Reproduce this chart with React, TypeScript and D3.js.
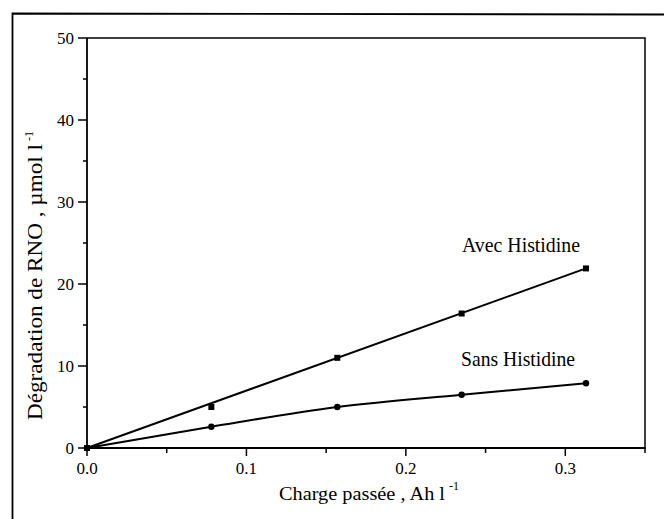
import React, { useEffect, useRef } from 'react';
import * as d3 from 'd3';

// charge passée (Ah/l)
const charge = [0, 0.078, 0.157, 0.235, 0.313];
const avecHistidine = [0, 5.0, 11.0, 16.4, 21.9];
const sansHistidine = [0, 2.6, 5.0, 6.5, 7.9];

// straight fit drawn for "Avec Histidine"
const avecFitX = [0, 0.313];
const avecFitY = [0, 21.9];

const xMajor = [0, 0.1, 0.2, 0.3];
const xMinor = [0.05, 0.15, 0.25, 0.35];
const yMajor = [0, 10, 20, 30, 40, 50];
const yMinor = [5, 15, 25, 35, 45];

const W = 664;
const H = 519;
const FONT = 'Liberation Serif, Times New Roman, serif';

export default function App() {
    const svgRef = useRef<SVGSVGElement>(null);

    useEffect(() => {
        const svg = d3.select(svgRef.current);
        svg.selectAll('*').remove();

        const left = 87, top = 38, right = 645, bottom = 448;
        const x = d3.scaleLinear().domain([0, 0.35]).range([left, right]);
        const y = d3.scaleLinear().domain([0, 50]).range([bottom, top]);

        svg.append('rect').attr('width', W).attr('height', H).attr('fill', '#fff');

        // outer frame (cropped scan border)
        svg.append('path')
            .attr('d', `M12.5,${H} L12.5,13.5 L${W},14.5`)
            .attr('fill', 'none')
            .attr('stroke', '#000')
            .attr('stroke-width', 1.8);

        const g = svg.append('g').style('font-family', FONT).attr('fill', '#000');

        // plot box
        g.append('path')
            .attr('d', `M${left},${top} L${right},${top} L${right},${bottom}`)
            .attr('fill', 'none')
            .attr('stroke', '#000')
            .attr('stroke-width', 1.5);

        // axes
        g.append('line')
            .attr('x1', left).attr('x2', left).attr('y1', top).attr('y2', bottom)
            .attr('stroke', '#000').attr('stroke-width', 1.8);
        g.append('line')
            .attr('x1', left - 1).attr('x2', right + 1).attr('y1', bottom).attr('y2', bottom)
            .attr('stroke', '#000').attr('stroke-width', 2.2);

        // y ticks
        g.selectAll('.ymaj').data(yMajor).enter().append('line')
            .attr('x1', left - 9).attr('x2', left)
            .attr('y1', (d) => y(d)).attr('y2', (d) => y(d))
            .attr('stroke', '#000').attr('stroke-width', 1.5);
        g.selectAll('.ymin').data(yMinor).enter().append('line')
            .attr('x1', left - 4).attr('x2', left)
            .attr('y1', (d) => y(d)).attr('y2', (d) => y(d))
            .attr('stroke', '#000').attr('stroke-width', 1.5);
        g.selectAll('.ylab').data(yMajor).enter().append('text')
            .attr('x', left - 13).attr('y', (d) => y(d) + 6)
            .attr('text-anchor', 'end').attr('font-size', 17)
            .style('font-family', FONT)
            .text((d) => d);

        // x ticks
        g.selectAll('.xmaj').data(xMajor).enter().append('line')
            .attr('x1', (d) => x(d)).attr('x2', (d) => x(d))
            .attr('y1', bottom).attr('y2', bottom + 8)
            .attr('stroke', '#000').attr('stroke-width', 1.5);
        g.selectAll('.xmin').data(xMinor).enter().append('line')
            .attr('x1', (d) => x(d)).attr('x2', (d) => x(d))
            .attr('y1', bottom).attr('y2', bottom + 5)
            .attr('stroke', '#000').attr('stroke-width', 1.5);
        g.selectAll('.xlab').data(xMajor).enter().append('text')
            .attr('x', (d) => x(d)).attr('y', bottom + 26)
            .attr('text-anchor', 'middle').attr('font-size', 17)
            .style('font-family', FONT)
            .text((d) => d3.format('.1f')(d));

        // lines
        const fit = avecFitX.map((v, i) => [v, avecFitY[i]] as [number, number]);
        g.append('path')
            .datum(fit)
            .attr('fill', 'none').attr('stroke', '#000').attr('stroke-width', 2)
            .attr('d', d3.line().x((d) => x(d[0])).y((d) => y(d[1])));

        const sans = charge.map((v, i) => [v, sansHistidine[i]] as [number, number]);
        g.append('path')
            .datum(sans)
            .attr('fill', 'none').attr('stroke', '#000').attr('stroke-width', 2)
            .attr('d', d3.line().curve(d3.curveMonotoneX).x((d) => x(d[0])).y((d) => y(d[1])));

        // markers
        g.selectAll('.sq').data(charge).enter().append('rect')
            .attr('x', (d) => x(d) - 3).attr('y', (d, i) => y(avecHistidine[i]) - 3)
            .attr('width', 6).attr('height', 6);
        g.selectAll('.dot').data(charge).enter().append('circle')
            .attr('cx', (d) => x(d)).attr('cy', (d, i) => y(sansHistidine[i]))
            .attr('r', 3.2);

        // series labels
        g.append('text').attr('x', 462).attr('y', 252).attr('font-size', 22)
            .style('font-family', FONT)
            .attr('textLength', 118).attr('lengthAdjust', 'spacingAndGlyphs')
            .text('Avec Histidine');
        g.append('text').attr('x', 461).attr('y', 366).attr('font-size', 22)
            .style('font-family', FONT)
            .attr('textLength', 114).attr('lengthAdjust', 'spacingAndGlyphs')
            .text('Sans Histidine');

        // x title (superscript as its own text, placed after the main run)
        const xLen = 166;
        g.append('text').attr('x', 279).attr('y', 500).attr('font-size', 19)
            .style('font-family', FONT)
            .attr('textLength', xLen).attr('lengthAdjust', 'spacingAndGlyphs')
            .text('Charge passée , Ah l');
        g.append('text').attr('x', 279 + xLen + 4).attr('y', 490).attr('font-size', 12)
            .style('font-family', FONT)
            .text('-1');

        // y title
        const yLen = 276;
        g.append('text')
            .attr('transform', 'translate(42,420) rotate(-90)')
            .attr('font-size', 20)
            .style('font-family', FONT)
            .attr('textLength', yLen).attr('lengthAdjust', 'spacingAndGlyphs')
            .text('Dégradation de RNO ,  µmol l');
        g.append('text')
            .attr('transform', `translate(33,${420 - yLen - 3}) rotate(-90)`)
            .attr('font-size', 12)
            .style('font-family', FONT)
            .text('-1');
    }, []);

    return (
        <svg
            ref={svgRef}
            width={W}
            height={H}
            style={{ position: 'absolute', left: 0, top: 0, fontFamily: FONT }}
        />
    );
}
